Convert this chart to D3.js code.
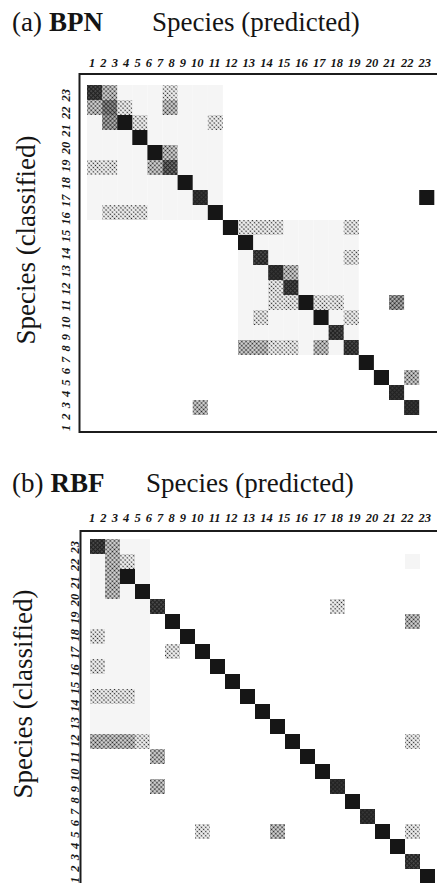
<!DOCTYPE html>
<html>
<head>
<meta charset="utf-8">
<script src="https://cdn.jsdelivr.net/npm/d3@7/dist/d3.min.js"></script>
<style>
  body { margin: 0; background: #fff; }
  text { font-family: "Liberation Serif", "Times New Roman", serif; fill: #141414; }
  .title { font-size: 27px; }
  .tick { font-size: 12.5px; font-style: italic; font-weight: bold; }
</style>
</head>
<body>
<script>

// species numbers, used on both axes
var tickLabels = ["1", "2", "3", "4", "5", "6", "7", "8", "9", "10", "11", "12",
  "13", "14", "15", "16", "17", "18", "19", "20", "21", "22", "23"];

// grey level of every cell, 0 (white, ".") to 9 (black)
// rows as printed, top to bottom; columns = predicted species 1..23
var bpnLevels = [
  "731112111..............",
  "352113111..............",
  "149211112..............",
  "111911111..............",
  "111193111..............",
  "221136111..............",
  "111111911..............",
  "111111181.............9",
  "122211119..............",
  ".........922211112.....",
  "..........91111111.....",
  "..........17111112.....",
  "..........11831111.....",
  "..........11271111.....",
  "..........11229221..4..",
  "..........12111912.....",
  "..........11111171.....",
  "..........33221317.....",
  "..................9....",
  "...................9.3.",
  "....................8..",
  ".......3.............8.",
  "......................."
];

var rbfLevels = [
  "7311...................",
  "1321.................1.",
  "1391...................",
  "1319...................",
  "11117...........2......",
  "1111.9...............3.",
  "2111..9................",
  "1111.2.9...............",
  "2111....9..............",
  "1111.....9.............",
  "2221......9............",
  "1111.......9...........",
  "1111........9..........",
  "3332.........9.......2.",
  "....3.........9........",
  "...............9.......",
  "....3...........8......",
  ".................9.....",
  "..................8....",
  ".......2....3......9.2.",
  "....................9..",
  ".....................7.",
  "......................9"
];

var panelTags = ["(a)", "(b)"];
var panelNames = ["BPN", "RBF"];
var xTitle = "Species (predicted)";
var yTitle = "Species (classified)";

// layout of the two panels (pixels)
var layout = [
  {levels: bpnLevels, titleY: 31, xTitleX: 152, labelY: 67, frameTop: 74, frameLeft: 79.5,
   frameBottom: 432, gridX: 87, gridY: 85, stepX: 15.1, stepY: 15,
   yLabelX: 70, yLabelStart: 431, yTitleX: 35, yTitleMid: 240},
  {levels: rbfLevels, titleY: 492, xTitleX: 146, labelY: 522, frameTop: 531, frameLeft: 80.5,
   frameBottom: 886, gridX: 90, gridY: 539, stepX: 15, stepY: 15,
   yLabelX: 79, yLabelStart: 883, yTitleX: 32, yTitleMid: 694}
];

var width = 437, height = 883;
var labelSpan = 342;

var color = d3.scaleLinear()
    .domain([0, 1, 2, 9])
    .range(["#ffffff", "#f5f5f5", "#e0e0e0", "#161616"]);

// halftone dot radius for the printed mid greys
var dotRadius = d3.scaleSqrt()
    .domain([0, 9])
    .range([0, 1.75]);

var svg = d3.select("body")
  .append("svg")
    .attr("width", width)
    .attr("height", height);

// one halftone pattern per mid level
var defs = svg.append("defs");
var halftone = defs.selectAll("pattern")
    .data([2, 3, 4, 5, 6, 7, 8])
  .enter().append("pattern")
    .attr("id", function(d) { return "ht" + d; })
    .attr("width", 3)
    .attr("height", 3)
    .attr("patternUnits", "userSpaceOnUse")
    .attr("patternTransform", "rotate(45)");
halftone.append("rect")
    .attr("width", 3)
    .attr("height", 3)
    .attr("fill", function(d) { return d3.interpolateRgb("#ffffff", color(d))(0.55); });
halftone.append("circle")
    .attr("cx", 1.5)
    .attr("cy", 1.5)
    .attr("r", function(d) { return dotRadius(d); })
    .attr("fill", "#222");

// a row of tick labels set like one typed line, stretched to labelSpan
function drawLabels(g, x, y, rotated) {
  var t = g.append("text")
      .classed("tick", true)
      .attr("transform", "translate(" + x + "," + y + ")" + (rotated ? " rotate(-90)" : ""));
  var spans = t.selectAll("tspan")
      .data(tickLabels)
    .enter().append("tspan")
      .text(function(d) { return d; });
  var gap = (labelSpan - t.node().getComputedTextLength()) / (tickLabels.length - 1);
  spans.attr("dx", function(d, i) { return i ? gap : 0; });
}

layout.forEach(function(p, k) {
  var g = svg.append("g");

  var x = d3.scaleBand()
      .domain(tickLabels)
      .range([p.gridX, p.gridX + p.stepX * tickLabels.length])
      .padding(0);

  var y = d3.scaleBand()
      .domain(d3.range(p.levels.length))
      .range([p.gridY, p.gridY + p.stepY * p.levels.length])
      .padding(0);

  var cells = [];
  p.levels.forEach(function(row, r) {
    row.split("").forEach(function(ch, c) {
      if (ch !== ".") cells.push({row: r, col: tickLabels[c], v: +ch});
    });
  });

  // faint cells first so dark ones sit on top
  cells.sort(function(a, b) { return a.v - b.v; });

  g.selectAll("rect.cell")
      .data(cells)
    .enter().append("rect")
      .classed("cell", true)
      .attr("x", function(d) { return x(d.col); })
      .attr("y", function(d) { return y(d.row); })
      .attr("width", x.bandwidth())
      .attr("height", y.bandwidth())
      .attr("fill", function(d) {
        return (d.v >= 2 && d.v <= 8) ? "url(#ht" + d.v + ")" : color(d.v);
      });

  // frame, open on the right where the scan is cut
  g.append("path")
      .attr("d", "M" + (width + 5) + "," + p.frameTop + "H" + p.frameLeft +
                 "V" + p.frameBottom + "H" + (width + 5))
      .attr("fill", "none")
      .attr("stroke", "#1c1c1c")
      .attr("stroke-width", 2);

  // titles
  var t = g.append("text")
      .classed("title", true)
      .attr("x", 12)
      .attr("y", p.titleY)
      .text(panelTags[k]);
  t.append("tspan")
      .attr("dx", 7)
      .attr("font-weight", "bold")
      .text(panelNames[k]);

  g.append("text")
      .classed("title", true)
      .attr("x", p.xTitleX)
      .attr("y", p.titleY)
      .text(xTitle);

  g.append("text")
      .classed("title", true)
      .attr("text-anchor", "middle")
      .attr("transform", "translate(" + p.yTitleX + "," + p.yTitleMid + ") rotate(-90)")
      .text(yTitle);

  drawLabels(g, 89, p.labelY, false);
  drawLabels(g, p.yLabelX, p.yLabelStart, true);
});

</script>
</body>
</html>
